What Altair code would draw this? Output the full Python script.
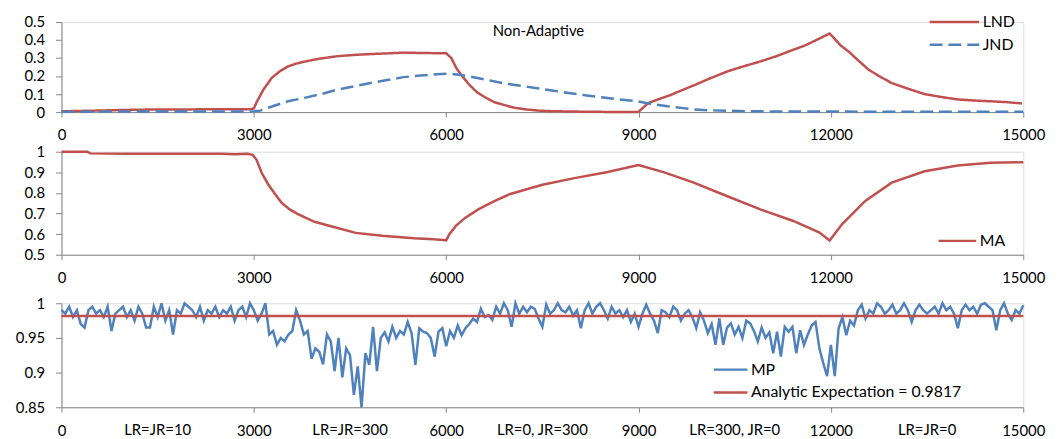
import altair as alt
import pandas as pd

# ---------------- data ----------------
lnd_x = [0, 200, 500, 1000, 1500, 2000, 2500, 2950, 3000, 3050, 3150, 3280, 3400, 3530, 3650, 3790,
         4000, 4300, 4600, 4820, 5100, 5340, 5600, 5800, 6000, 6080, 6160, 6260, 6360, 6480, 6620,
         6750, 6880, 7050, 7240, 7450, 7650, 8000, 8500, 8980, 9000, 9150, 9300, 9500, 9700, 9860,
         10100, 10380, 10600, 10890, 11150, 11400, 11600, 11820, 11980, 12050, 12150, 12280, 12430,
         12590, 12750, 12950, 13200, 13460, 13700, 13980, 14250, 14490, 14750, 14980]
lnd_v = [0.004, 0.006, 0.008, 0.012, 0.015, 0.015, 0.016, 0.016, 0.02, 0.06, 0.125, 0.19, 0.225, 0.253,
         0.268, 0.28, 0.295, 0.31, 0.318, 0.322, 0.326, 0.33, 0.328, 0.327, 0.326, 0.3, 0.243, 0.195,
         0.152, 0.11, 0.079, 0.055, 0.042, 0.025, 0.015, 0.008, 0.005, 0.003, 0.001, 0.0, 0.002, 0.05,
         0.07, 0.095, 0.125, 0.148, 0.185, 0.225, 0.25, 0.28, 0.31, 0.344, 0.37, 0.408, 0.436, 0.41,
         0.37, 0.335, 0.285, 0.235, 0.2, 0.161, 0.13, 0.10, 0.085, 0.07, 0.064, 0.06, 0.055, 0.048]

jnd_x = [0, 1000, 2000, 3000, 3100, 3225, 3400, 3534, 3791, 4050, 4306, 4560, 4820, 5080, 5335, 5600,
         5850, 6055, 6200, 6363, 6620, 6877, 7130, 7392, 7650, 7906, 8160, 8420, 8700, 8986, 9200,
         9450, 9700, 9861, 10100, 10375, 10700, 11000, 11500, 12000, 13000, 14000, 15000]
jnd_v = [0.002, 0.003, 0.003, 0.004, 0.008, 0.024, 0.045, 0.06, 0.079, 0.10, 0.125, 0.143, 0.161, 0.178,
         0.194, 0.203, 0.21, 0.213, 0.207, 0.198, 0.18, 0.161, 0.148, 0.134, 0.12, 0.106, 0.094, 0.082,
         0.07, 0.06, 0.045, 0.032, 0.022, 0.015, 0.01, 0.008, 0.005, 0.004, 0.003, 0.003, 0.002, 0.002,
         0.002]

ma_x = [0, 400, 450, 1000, 2000, 2500, 2700, 2900, 2980, 3040, 3122, 3225, 3330, 3431, 3560, 3688,
        3946, 4203, 4589, 5000, 5500, 5800, 5950, 6000, 6050, 6150, 6300, 6500, 6750, 7000, 7500,
        8000, 8500, 9000, 9400, 9861, 10375, 10890, 11404, 11816, 11980, 12176, 12536, 12948, 13462,
        13977, 14491, 15000]
ma_v = [1.0, 1.0, 0.992, 0.99, 0.99, 0.99, 0.988, 0.99, 0.985, 0.962, 0.898, 0.841, 0.795, 0.753, 0.72,
        0.697, 0.66, 0.638, 0.606, 0.592, 0.58, 0.575, 0.572, 0.57, 0.6, 0.64, 0.68, 0.72, 0.76, 0.795,
        0.84, 0.872, 0.9, 0.935, 0.9, 0.85, 0.785, 0.721, 0.665, 0.609, 0.569, 0.649, 0.761, 0.85,
        0.905, 0.933, 0.946, 0.949]

mp_x = list(range(0, 15001, 60))
mp_v = [
    0.99, 0.985, 0.995, 0.98, 0.99, 0.97, 0.965, 0.99, 0.995, 0.985,
    0.99, 0.98, 0.995, 0.96, 0.985, 0.99, 0.995, 0.98, 0.99, 0.975,
    0.995, 0.985, 0.965, 0.965, 0.995, 0.98, 1.0, 0.975, 0.99, 0.955,
    0.99, 0.985, 1.0, 0.995, 0.99, 0.98, 0.995, 0.975, 0.99, 0.985,
    0.995, 0.98, 0.99, 0.985, 0.995, 0.975, 0.99, 0.995, 0.98, 1.0,
    # 3000
    0.99, 0.975, 0.985, 1.0, 0.955, 0.96, 0.94, 0.95, 0.945, 0.955,
    0.96, 0.99, 0.975, 0.955, 0.96, 0.92, 0.935, 0.93, 0.912, 0.955,
    0.945, 0.902, 0.95, 0.893, 0.935, 0.925, 0.868, 0.909, 0.85, 0.928,
    0.911, 0.966, 0.902, 0.95, 0.958, 0.945, 0.966, 0.95, 0.96, 0.955,
    0.973, 0.957, 0.911, 0.964, 0.959, 0.957, 0.95, 0.923, 0.959, 0.964,
    # 6000
    0.938, 0.96, 0.95, 0.968, 0.954, 0.964, 0.97, 0.978, 0.973, 0.992,
    0.98, 0.983, 0.976, 0.995, 0.985, 1.0, 0.99, 0.966, 1.0, 0.985,
    0.995, 0.987, 0.995, 0.992, 0.978, 0.966, 0.998, 0.985, 0.99, 1.0,
    0.99, 0.987, 0.995, 0.982, 0.99, 0.964, 0.99, 1.0, 0.985, 0.995,
    1.0, 0.99, 0.978, 0.995, 0.985, 0.99, 0.98, 0.99, 0.973, 0.985,
    # 9000
    0.966, 0.985, 0.998, 0.985, 0.975, 0.957, 0.99, 0.987, 0.98, 0.995,
    0.99, 0.975, 0.985, 0.99, 0.98, 0.964, 0.987, 0.975, 0.957, 0.97,
    0.94, 0.978, 0.94, 0.965, 0.971, 0.955, 0.966, 0.95, 0.975, 0.971,
    0.96, 0.945, 0.965, 0.95, 0.958, 0.928, 0.959, 0.923, 0.966, 0.959,
    0.966, 0.928, 0.961, 0.94, 0.955, 0.968, 0.973, 0.935, 0.914, 0.895,
    # 12000
    0.94, 0.895, 0.964, 0.98, 0.954, 0.975, 0.968, 0.99, 0.998, 0.978,
    0.99, 0.985, 1.0, 0.995, 0.985, 0.99, 0.998, 0.985, 0.99, 1.0,
    0.99, 0.973, 0.99, 0.998, 0.99, 0.985, 0.99, 0.995, 0.985, 1.0,
    0.99, 0.995, 0.985, 0.964, 0.99, 0.998, 0.99, 0.995, 0.985, 0.998,
    1.0, 0.995, 0.99, 0.961, 0.99, 1.0, 0.985, 0.976, 0.99, 0.985, 0.997,
]

analytic_x = [0, 15000]
analytic_v = [0.9817, 0.9817]
analytic_name = "Analytic Expectation = 0.9817"

x_ticks = [0, 3000, 6000, 9000, 12000, 15000]
phase_x = [1500, 4500, 7500, 10500, 13500]
phase_labels = ["LR=JR=10", "LR=JR=300", "LR=0, JR=300", "LR=300, JR=0", "LR=JR=0"]

# ---------------- style ----------------
FONT = "Lato"
RED = "#C0504D"
BLUE = "#4F81BD"
GRAY = "#868686"
W = 971
FS = 15
LFS = 16

def x_enc():
    return alt.X("x:Q", scale=alt.Scale(domain=[0, 15000], nice=False, zero=False),
                 axis=alt.Axis(values=x_ticks, format="d", title=None, grid=False, tickSize=5,
                               labelPadding=11, labelFlush=False, labelOverlap=False,
                               domainColor=GRAY, tickColor=GRAY, labelColor="black",
                               labelFontSize=FS, labelFont=FONT))

def y_enc(dom, vals):
    return alt.Y("v:Q", scale=alt.Scale(domain=dom, nice=False, zero=False),
                 axis=alt.Axis(values=vals, format="~g", title=None, grid=False, tickSize=6,
                               labelPadding=11, minExtent=48, maxExtent=48, labelFlush=False,
                               labelOverlap=False, domainColor=GRAY, tickColor=GRAY,
                               labelColor="black", labelFontSize=FS, labelFont=FONT))

def legend(lx, ly, sym):
    return alt.Legend(orient="none", legendX=lx, legendY=ly, title=None, symbolType="stroke",
                      symbolSize=sym * sym, symbolStrokeWidth=2.5, clipHeight=16, rowPadding=7,
                      labelOffset=2, labelFontSize=LFS, labelFont=FONT, labelColor="black",
                      labelLimit=500, padding=0, direction="vertical")

# ---------------- panel 1 ----------------
df1 = pd.concat([
    pd.DataFrame({"x": lnd_x, "v": lnd_v, "series": "LND"}),
    pd.DataFrame({"x": jnd_x, "v": jnd_v, "series": "JND"}),
])
leg1 = legend(875, -8, 50)
p1 = alt.Chart(df1).mark_line(strokeWidth=2.5).encode(
    x=x_enc(),
    y=y_enc([0, 0.5], [0, 0.1, 0.2, 0.3, 0.4, 0.5]),
    color=alt.Color("series:N", scale=alt.Scale(domain=["LND", "JND"], range=[RED, BLUE]), legend=leg1),
    strokeDash=alt.StrokeDash("series:N", scale=alt.Scale(domain=["LND", "JND"], range=[[1, 0], [13, 6]]),
                              legend=leg1),
).properties(width=W, height=91,
             title=alt.TitleParams("Non-Adaptive", fontSize=15, fontWeight="normal", font=FONT,
                                   color="black", offset=-25, anchor="middle", frame="group", dx=-4))

# ---------------- panel 2 ----------------
df2 = pd.DataFrame({"x": ma_x, "v": ma_v, "series": "MA"})
p2 = alt.Chart(df2).mark_line(strokeWidth=2.5).encode(
    x=x_enc(),
    y=y_enc([0.5, 1.0], [0.5, 0.6, 0.7, 0.8, 0.9, 1.0]),
    color=alt.Color("series:N", scale=alt.Scale(domain=["MA"], range=[RED]), legend=legend(884, 82, 38)),
).properties(width=W, height=104)

# ---------------- panel 3 ----------------
df3 = pd.concat([
    pd.DataFrame({"x": mp_x, "v": mp_v, "series": "MP"}),
    pd.DataFrame({"x": analytic_x, "v": analytic_v, "series": analytic_name}),
])
col3 = alt.Color("series:N", scale=alt.Scale(domain=["MP", analytic_name], range=[BLUE, RED]),
                 legend=legend(657, 59, 34))
y3 = y_enc([0.85, 1.0], [0.85, 0.9, 0.95, 1.0])
mp_line = alt.Chart(df3).transform_filter(alt.datum.series == "MP").mark_line(strokeWidth=2.5).encode(
    x=x_enc(), y=y3, color=col3)
an_line = alt.Chart(df3).transform_filter(alt.datum.series == analytic_name).mark_line(strokeWidth=2.5).encode(
    x=x_enc(), y=y3, color=col3)
df_lab = pd.DataFrame({"x": phase_x, "lab": phase_labels})
labels = alt.Chart(df_lab).mark_text(baseline="top", fontSize=FS, font=FONT, color="black").encode(
    x=x_enc(), y=alt.value(105 + 5 + 11), text="lab:N")
p3 = alt.layer(mp_line, an_line, labels).properties(width=W, height=105)

inner = alt.vconcat(p2, p3, spacing=49, bounds="flush").resolve_scale(color="independent")
chart = alt.vconcat(p1, inner, spacing=40, bounds="flush").resolve_scale(
    color="independent", strokeDash="independent"
).properties(padding={"left": 5, "top": 3, "right": 5, "bottom": 5}).configure_view(
    stroke=None).configure(font=FONT)

chart.save("out.html", embed_options={"renderer": "svg", "actions": False})
